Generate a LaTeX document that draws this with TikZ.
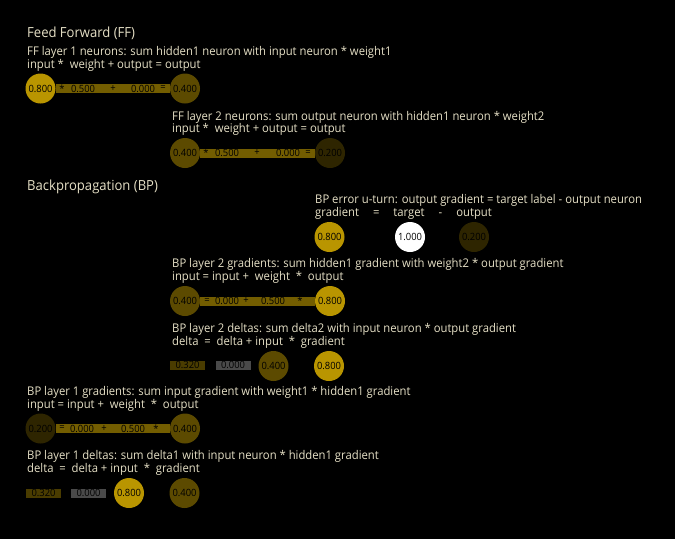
\documentclass[tikz,border=0pt]{standalone}
\usepackage{fontspec}
\setmainfont{Open Sans}[FakeStretch=0.94]
\usetikzlibrary{positioning}
\definecolor{gold}{RGB}{231,186,0}
\definecolor{txt}{RGB}{230,224,198}
\definecolor{zerobox}{RGB}{74,74,74}

\begin{document}
\begin{tikzpicture}[x=1pt,y=-1pt]

%BACKGROUND
\fill[black] (0,0) rectangle (675,539);
\useasboundingbox (0,0) rectangle (675,539);

%%%%%%%%%%%%%%%%%%%%%%%%%%%%%%%%%%%%%%%%%%%%%%%%%%%%%%%%%%%%%%
%styles
\tikzstyle{neuron}=[circle,minimum size=30pt,inner sep=0pt,text=black,font=\fontsize{10}{10}\selectfont]
\tikzstyle{deltabox}=[rectangle,minimum width=35pt,minimum height=9pt,inner sep=0pt,text=black,font=\fontsize{10}{10}\selectfont]
\tikzstyle{caption}=[anchor=base west,inner sep=0pt,text=txt,font=\fontsize{12}{12}\selectfont]
\tikzstyle{heading}=[caption,font=\fontsize{13.9}{13.9}\selectfont]
\tikzstyle{weight}=[line width=9pt,color=gold!50!black]
\tikzstyle{op}=[inner sep=0pt,text=black,font=\fontsize{10}{10}\selectfont]

%%%%%%%%%%%%%%%%%%%%%%%%%%%%%%%%%%%%%%%%%%%%%%%%%%%%%%%%%%%%%%
%FEED FORWARD
\node[heading] (ff) at (27,37.3) {Feed Forward (FF)};

%layer 1
\node[caption] (ff1a) at (27,55.5) {FF layer 1 neurons: sum hidden1 neuron with input neuron * weight1};
\node[caption] (ff1b) at (27,68) {input *\ \ weight + output = output};
\node[neuron,fill=gold!80!black] (ff1in) at (40.5,88.5) {0.800};
\node[neuron,fill=gold!40!black] (ff1out) at (185,88.5) {0.400};
\draw[weight] (ff1in) -- (ff1out);
\node[op] (ff1mul) at (62,88.5) {*};
\node[op] (ff1w) at (83,88.5) {0.500};
\node[op] (ff1add) at (113,88.5) {+};
\node[op] (ff1b0) at (143,88.5) {0.000};
\node[op] (ff1eq) at (163,88.5) {=};

%layer 2
\node[caption] (ff2a) at (172,120) {FF layer 2 neurons: sum output neuron with hidden1 neuron * weight2};
\node[caption] (ff2b) at (172,132.5) {input *\ \ weight + output = output};
\node[neuron,fill=gold!40!black] (ff2in) at (185,153) {0.400};
\node[neuron,fill=gold!20!black] (ff2out) at (330,153) {0.200};
\draw[weight] (ff2in) -- (ff2out);
\node[op] (ff2mul) at (206,153) {*};
\node[op] (ff2w) at (227,153) {0.500};
\node[op] (ff2add) at (257,153) {+};
\node[op] (ff2b0) at (288,153) {0.000};
\node[op] (ff2eq) at (308,153) {=};

%%%%%%%%%%%%%%%%%%%%%%%%%%%%%%%%%%%%%%%%%%%%%%%%%%%%%%%%%%%%%%
%BACKPROPAGATION
\node[heading] (bp) at (27,190.7) {Backpropagation (BP)};

%error u-turn
\node[caption] (erra) at (315,203.5) {BP error u-turn: output gradient = target label - output neuron};
\node[caption] (errb) at (315,216.5) {gradient\hspace{14pt}=\hspace{14pt}target\hspace{14pt}-\hspace{14pt}output};
\node[neuron,fill=gold!80!black] (errgrad) at (329.5,237) {0.800};
\node[neuron,fill=white] (errtarget) at (410,237) {1.000};
\node[neuron,fill=gold!20!black] (errout) at (474,237) {0.200};

%layer 2 gradients
\node[caption] (bg2a) at (172,267.5) {BP layer 2 gradients: sum hidden1 gradient with weight2 * output gradient};
\node[caption] (bg2b) at (172,280.5) {input = input +\ \ weight\ \ *\ \ output};
\node[neuron,fill=gold!40!black] (bg2in) at (185,301) {0.400};
\node[neuron,fill=gold!80!black] (bg2out) at (330,301) {0.800};
\draw[weight] (bg2in) -- (bg2out);
\node[op] (bg2eq) at (207,301) {=};
\node[op] (bg2g0) at (227,301) {0.000};
\node[op] (bg2add) at (246,301) {+};
\node[op] (bg2w) at (273,301) {0.500};
\node[op] (bg2mul) at (300,301) {*};

%layer 2 deltas
\node[caption] (bd2a) at (172,332.5) {BP layer 2 deltas: sum delta2 with input neuron * output gradient};
\node[caption] (bd2b) at (172,345.5) {delta\ \ =\ \ delta + input\ \ *\ \ gradient};
\node[deltabox,fill=gold!32!black] (bd2new) at (187.5,365) {0.320};
\node[deltabox,fill=zerobox] (bd2old) at (233,365) {0.000};
\node[neuron,fill=gold!40!black] (bd2in) at (273.5,366) {0.400};
\node[neuron,fill=gold!80!black] (bd2grad) at (329,366) {0.800};

%layer 1 gradients
\node[caption] (bg1a) at (27,395) {BP layer 1 gradients: sum input gradient with weight1 * hidden1 gradient};
\node[caption] (bg1b) at (27,408) {input = input +\ \ weight\ \ *\ \ output};
\node[neuron,fill=gold!20!black] (bg1in) at (40.5,428.5) {0.200};
\node[neuron,fill=gold!40!black] (bg1out) at (185,428.5) {0.400};
\draw[weight] (bg1in) -- (bg1out);
\node[op] (bg1eq) at (62,428.5) {=};
\node[op] (bg1g0) at (82,428.5) {0.000};
\node[op] (bg1add) at (104,428.5) {+};
\node[op] (bg1w) at (133,428.5) {0.500};
\node[op] (bg1mul) at (156,428.5) {*};

%layer 1 deltas
\node[caption] (bd1a) at (27,459.5) {BP layer 1 deltas: sum delta1 with input neuron * hidden1 gradient};
\node[caption] (bd1b) at (27,472.5) {delta\ \ =\ \ delta + input\ \ *\ \ gradient};
\node[deltabox,fill=gold!32!black] (bd1new) at (43.5,493) {0.320};
\node[deltabox,fill=zerobox] (bd1old) at (88.5,493) {0.000};
\node[neuron,fill=gold!80!black] (bd1in) at (129,493) {0.800};
\node[neuron,fill=gold!40!black] (bd1grad) at (184.5,493) {0.400};

\end{tikzpicture}
\end{document}
